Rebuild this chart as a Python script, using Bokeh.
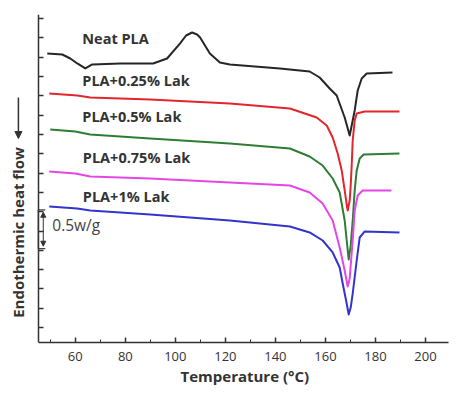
import math
from bokeh.plotting import figure
from bokeh.models import Range1d, FixedTicker, Label, Arrow, NormalHead, LinearAxis, Title
from bokeh.embed import file_html
from bokeh.resources import INLINE

# ---- data (Temperature in °C, heat flow in W/g, curves offset vertically) ----
neat_T = [48.8, 54.8, 58.0, 60.8, 64.0, 66.8, 78.0, 91.1, 96.7, 101.9, 104.3, 106.7, 108.7,
          109.9, 113.8, 117.8, 121.8, 141.8, 153.7, 157.7, 161.7, 164.5, 167.7, 169.7,
          171.7, 172.9, 174.5, 176.5, 186.8]
neat_V = [3.549, 3.536, 3.484, 3.420, 3.355, 3.407, 3.420, 3.420, 3.484, 3.679, 3.782, 3.821, 3.795,
          3.756, 3.549, 3.433, 3.407, 3.355, 3.316, 3.238, 3.096, 3.005, 2.720, 2.487,
          2.811, 3.070, 3.225, 3.290, 3.303]

lak025_T = [49.6, 60.8, 66.0, 89.9, 121.8, 145.8, 156.5, 160.5, 162.9, 164.9, 166.5, 167.7, 168.5,
            168.9, 169.7, 170.1, 170.5, 170.9, 171.7, 172.5, 175.7, 189.6]
lak025_V = [3.031, 3.005, 2.979, 2.953, 2.902, 2.837, 2.720, 2.617, 2.461, 2.254, 2.034, 1.775, 1.593,
            1.516, 1.645, 1.839, 2.098, 2.422, 2.681, 2.772, 2.798, 2.798]

lak05_T = [50.0, 60.0, 66.0, 89.9, 121.8, 145.8, 153.7, 158.9, 162.9, 165.7, 167.7, 168.5, 169.3,
           170.1, 170.9, 171.7, 172.5, 173.7, 175.3, 189.6]
lak05_V = [2.565, 2.539, 2.500, 2.448, 2.383, 2.319, 2.215, 2.098, 1.930, 1.749, 1.386, 1.127, 0.881,
           1.062, 1.386, 1.775, 2.034, 2.189, 2.241, 2.254]

lak075_T = [49.6, 60.0, 66.0, 89.9, 121.8, 145.8, 153.7, 158.9, 162.9, 165.7, 167.7, 168.9, 169.7,
            170.1, 170.9, 171.7, 172.9, 174.9, 186.4]
lak075_V = [2.021, 1.995, 1.956, 1.930, 1.878, 1.839, 1.749, 1.606, 1.386, 1.036, 0.738, 0.531, 0.635,
            0.803, 1.127, 1.516, 1.710, 1.775, 1.775]

lak1_T = [49.6, 60.8, 66.0, 89.9, 121.8, 141.8, 145.8, 153.7, 158.9, 162.9, 165.7, 166.9, 168.5,
          169.3, 170.1, 170.9, 172.5, 173.7, 175.7, 189.6]
lak1_V = [1.567, 1.541, 1.516, 1.464, 1.386, 1.321, 1.308, 1.231, 1.127, 0.972, 0.777, 0.570, 0.311,
          0.168, 0.259, 0.440, 0.868, 1.166, 1.244, 1.231]

series_names = ["Neat PLA", "PLA+0.25% Lak", "PLA+0.5% Lak", "PLA+0.75% Lak", "PLA+1% Lak"]
series_T = [neat_T, lak025_T, lak05_T, lak075_T, lak1_T]
series_V = [neat_V, lak025_V, lak05_V, lak075_V, lak1_V]
series_colors = ["#262626", "#e3262c", "#2f7d34", "#e447e6", "#3434cc"]
label_T = [62.8, 62.8, 62.8, 63.0, 63.0]
label_V = [3.743, 3.199, 2.733, 2.202, 1.697]

x_ticks = [60, 80, 100, 120, 140, 160, 180, 200]
x_minor = [50, 70, 90, 110, 130, 150, 170, 190]
y_ticks = [0.0, 0.25, 0.5, 0.75, 1.0, 1.25, 1.5, 1.75, 2.0, 2.25, 2.5, 2.75, 3.0, 3.25, 3.5, 3.75, 4.0]

x_axis_start, x_axis_end = 45.2, 209.2
y_axis_start, y_axis_end = -0.194, 4.054

scale_bar_bottom = 1.023
scale_bar_size = 0.5
scale_bar_text = "0.5w/g"
y_title = "Endothermic heat flow"
x_title = "Temperature (°C)"

FONT = "Open Sans"
AX = "#333333"

p = figure(width=459, height=394, output_backend="svg", toolbar_location=None,
           x_range=Range1d(30.1, x_axis_end), y_range=Range1d(y_axis_start, y_axis_end),
           y_axis_location=None,
           min_border_left=0, min_border_right=11, min_border_top=14, min_border_bottom=52)
p.outline_line_color = None
p.grid.visible = False
p.background_fill_color = "white"
p.border_fill_color = "white"

for T, V, c in zip(series_T, series_V, series_colors):
    p.line(T, V, line_color=c, line_width=2.0, line_join="round")

for name, lt, lv in zip(series_names, label_T, label_V):
    p.add_layout(Label(x=lt, y=lv, text=name, text_font=FONT, text_font_style="bold",
                       text_font_size="14.5px", text_color="#333333", text_baseline="middle"))

# x axis
xa = p.xaxis[0]
xa.bounds = (x_axis_start, x_axis_end)
xa.ticker = FixedTicker(ticks=x_ticks, minor_ticks=x_minor)
xa.major_tick_in = 5
xa.major_tick_out = 0
xa.minor_tick_in = 3
xa.minor_tick_out = 0
xa.axis_line_width = 1.5
xa.axis_line_color = AX
xa.major_tick_line_color = AX
xa.minor_tick_line_color = AX
xa.major_tick_line_width = 1.5
xa.major_label_text_font = FONT
xa.major_label_text_font_size = "13px"
xa.major_label_text_color = AX
xa.major_label_standoff = 9

# x title, placed under the bounded axis
p.add_layout(Title(text=x_title, align="left", offset=180, standoff=0,
                   text_font=FONT, text_font_style="bold", text_font_size="15px",
                   text_color=AX, vertical_align="bottom"), "below")

# y axis, fixed at the left end of the x axis
ya = LinearAxis(fixed_location=x_axis_start)
ya.ticker = FixedTicker(ticks=y_ticks, minor_ticks=[])
ya.major_tick_in = 5
ya.major_tick_out = 0
ya.minor_tick_in = 0
ya.minor_tick_out = 0
ya.axis_line_width = 1.5
ya.axis_line_color = AX
ya.major_tick_line_color = AX
ya.major_tick_line_width = 1.5
ya.major_label_text_font_size = "0px"
ya.major_label_standoff = 0
ya.major_label_text_color = None
p.add_layout(ya, "left")

# y title with arrow
p.add_layout(Label(x=37.26, y=1.231, text=y_title, angle=math.pi / 2,
                   text_font=FONT, text_font_style="bold", text_font_size="15px",
                   text_color=AX, text_align="center", text_baseline="middle"))
p.add_layout(Arrow(x_start=37.26, y_start=2.979, x_end=37.26, y_end=2.448,
                   line_color=AX, line_width=1.5,
                   end=NormalHead(size=7, fill_color=AX, line_color=AX)))

# scale bar
sb_x0, sb_x1, sb_xm = x_axis_start, 48.0, 47.2
p.line([sb_x1, sb_x0, sb_x0, sb_x1],
       [scale_bar_bottom + scale_bar_size, scale_bar_bottom + scale_bar_size,
        scale_bar_bottom, scale_bar_bottom], line_color="#444444", line_width=1.2)
p.add_layout(Arrow(x_start=sb_xm, y_start=scale_bar_bottom + 0.03, x_end=sb_xm,
                   y_end=scale_bar_bottom + scale_bar_size - 0.03,
                   line_color=AX, line_width=1.0,
                   start=NormalHead(size=5, fill_color=AX, line_color=AX),
                   end=NormalHead(size=5, fill_color=AX, line_color=AX)))
p.add_layout(Label(x=50.8, y=scale_bar_bottom + scale_bar_size * 0.6, text=scale_bar_text,
                   text_font=FONT, text_font_size="15.5px", text_color="#444444",
                   text_baseline="middle"))

open("out.html", "w").write(file_html(p, INLINE))
